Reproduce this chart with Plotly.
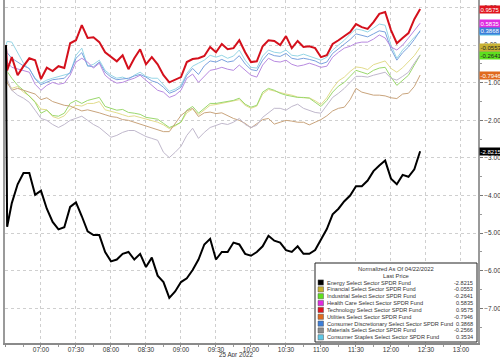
import plotly.graph_objects as go

DAY = "2022-04-25"
times = ["06:30", "06:31", "06:35", "06:40", "06:45", "06:50", "06:55",
         "07:00", "07:05", "07:10", "07:15", "07:20", "07:25", "07:30", "07:35", "07:40", "07:45", "07:50", "07:55",
         "08:00", "08:05", "08:10", "08:15", "08:20", "08:25", "08:30", "08:35", "08:40", "08:45", "08:50", "08:55",
         "09:00", "09:05", "09:10", "09:15", "09:20", "09:25", "09:30", "09:35", "09:40", "09:45", "09:50", "09:55",
         "10:00", "10:05", "10:10", "10:15", "10:20", "10:25", "10:30", "10:35", "10:40", "10:45", "10:50", "10:55",
         "11:00", "11:05", "11:10", "11:15", "11:20", "11:25", "11:30", "11:35", "11:40", "11:45", "11:50", "11:55",
         "12:00", "12:05", "12:10", "12:15", "12:20", "12:25"]

names = ["Energy Select Sector SPDR Fund", "Financial Select Sector SPDR Fund",
         "Industrial Select Sector SPDR Fund", "Health Care Select Sector SPDR Fund",
         "Technology Select Sector SPDR Fund", "Utilities Select Sector SPDR Fund",
         "Consumer Discretionary Select Sector SPDR Fund", "Materials Select Sector SPDR Fund",
         "Consumer Staples Select Sector SPDR Fund"]
last_price = [-2.8215, -0.0553, -0.2641, 0.5835, 0.9575, -0.7946, 0.3868, -0.2566, 0.3534]

energy = [0, -4.83, -4.2, -3.7, -3.4, -3.4, -3.98, -3.87, -4.35, -4.7, -4.9, -4.84, -4.3, -4.18, -4.55, -4.95,
          -5.05, -5.05, -5.5, -5.75, -5.7, -5.55, -5.5, -5.7, -5.55, -5.9, -5.65, -6.13, -6.3, -6.72, -6.55, -6.3,
          -6.2, -5.98, -5.7, -5.3, -5.15, -5.7, -5.5, -5.5, -5.25, -5.3, -5.55, -5.6, -5.5, -5.35, -5.07, -5.2,
          -5.25, -5.45, -5.5, -5.35, -5.55, -5.55, -5.45, -5.15, -4.89, -4.5, -4.35, -4.15, -4.0, -3.75, -3.75,
          -3.6, -3.35, -3.2, -3.07, -3.55, -3.7, -3.45, -3.5, -3.3, -2.8215]
financial = [0, -1.0, -1.15, -1.1, -1.25, -1.35, -1.5, -1.7, -1.72, -1.9, -1.95, -1.88, -1.7, -1.6, -1.62, -1.55,
             -1.55, -1.5, -1.72, -1.75, -1.8, -1.85, -1.9, -1.88, -1.92, -1.98, -2.0, -2.05, -2.12, -2.22, -2.15,
             -2.05, -1.8, -1.7, -1.85, -1.72, -1.6, -1.58, -1.55, -1.52, -1.5, -1.45, -1.6, -1.68, -1.62, -1.3,
             -1.18, -1.22, -1.28, -1.3, -1.33, -1.38, -1.4, -1.4, -1.48, -1.58, -1.4, -1.15, -0.95, -0.85, -0.7,
             -0.58, -0.6, -0.65, -0.52, -0.48, -0.42, -0.62, -0.72, -0.6, -0.45, -0.28, -0.0553]
industrial = [0, -0.7, -0.88, -1.07, -1.2, -1.36, -1.52, -1.81, -1.73, -1.87, -1.89, -1.81, -1.55, -1.47, -1.55,
              -1.47, -1.44, -1.39, -1.63, -1.68, -1.73, -1.71, -1.79, -1.81, -1.84, -1.92, -1.95, -1.97, -2.08,
              -2.19, -2.13, -2.05, -1.73, -1.63, -1.81, -1.68, -1.55, -1.55, -1.52, -1.49, -1.47, -1.41, -1.57,
              -1.65, -1.6, -1.25, -1.15, -1.2, -1.28, -1.33, -1.36, -1.39, -1.39, -1.41, -1.52, -1.63, -1.47,
              -1.25, -1.09, -0.99, -0.83, -0.67, -0.72, -0.77, -0.67, -0.61, -0.59, -0.85, -1.07, -0.93, -0.8,
              -0.53, -0.2641]
health = [0, -0.45, -0.59, -0.64, -0.69, -0.72, -1.04, -1.2, -1.07, -0.99, -1.04, -1.01, -0.8, -0.45, -0.35,
          -0.45, -0.61, -0.48, -0.8, -0.93, -1.01, -0.99, -0.93, -0.88, -0.8, -0.93, -1.07, -1.2, -1.25, -1.39,
          -1.33, -1.2, -0.88, -0.77, -0.99, -0.83, -0.67, -0.64, -0.59, -0.64, -0.67, -0.53, -0.67, -0.8, -0.85,
          -0.53, -0.35, -0.43, -0.45, -0.4, -0.51, -0.56, -0.53, -0.48, -0.53, -0.59, -0.56, -0.32, -0.19, -0.08,
          -0.03, 0.05, 0.08, 0.08, 0.16, 0.27, 0.19, -0.05, -0.13, 0.0, 0.19, 0.4, 0.5835]
technology = [0, -0.67, -0.32, -0.8, -0.56, -0.35, -0.4, -0.9, -0.6, -0.69, -0.56, -0.61, 0.05, 0.13, 0.53, 0.19,
              0.21, 0.08, -0.19, -0.32, -0.43, -0.27, -0.64, -0.35, -0.11, -0.51, -0.32, -0.51, -0.8, -0.99,
              -0.91, -0.85, -0.45, -0.37, -0.35, -0.29, -0.05, -0.19, 0.03, -0.11, -0.08, 0.13, -0.19, -0.45,
              -0.43, -0.03, 0.13, 0.11, 0.0, 0.24, -0.08, 0.11, -0.05, -0.03, -0.08, -0.32, -0.27, 0.03, 0.13,
              0.24, 0.35, 0.56, 0.48, 0.43, 0.61, 0.83, 0.88, 0.4, 0.05, 0.19, 0.32, 0.69, 0.9575]
utilities = [0, -1.0, -1.2, -1.15, -1.2, -1.25, -1.3, -1.45, -1.4, -1.5, -1.55, -1.6, -1.62, -1.68, -1.75, -1.72,
             -1.75, -1.8, -1.85, -1.9, -1.92, -1.98, -2.0, -2.05, -2.1, -2.15, -2.2, -2.25, -2.3, -2.3, -2.1,
             -1.87, -1.75, -1.68, -1.9, -1.8, -1.78, -1.82, -1.8, -1.88, -1.95, -2.0, -2.08, -2.2, -2.1, -1.98,
             -1.95, -2.1, -2.05, -2.0, -2.02, -2.05, -2.05, -2.12, -2.05, -1.98, -1.88, -1.75, -1.68, -1.65,
             -1.45, -1.15, -1.25, -1.28, -1.33, -1.33, -1.35, -1.4, -1.42, -1.3, -1.28, -1.1, -0.7946]
cons_disc = [0, -0.2, -0.35, -0.45, -0.55, -0.62, -0.9, -1.05, -0.98, -0.92, -0.9, -0.88, -0.72, -0.35, -0.2,
             -0.55, -0.58, -0.45, -0.72, -0.85, -0.92, -0.9, -0.88, -0.82, -0.78, -0.85, -0.95, -1.0, -1.12,
             -1.28, -1.22, -1.12, -0.8, -0.62, -0.78, -0.55, -0.42, -0.45, -0.38, -0.45, -0.42, -0.28, -0.5,
             -0.65, -0.68, -0.4, -0.22, -0.28, -0.3, -0.22, -0.35, -0.38, -0.35, -0.38, -0.42, -0.5, -0.45,
             -0.22, -0.1, 0.02, 0.15, 0.3, 0.25, 0.22, 0.3, 0.38, 0.35, -0.1, -0.4, -0.2, -0.05, 0.15, 0.3868]
materials = [0, -0.9, -1.2, -1.33, -1.41, -1.52, -1.73, -1.95, -2.0, -2.11, -2.19, -2.11, -2.0, -1.95, -1.89,
             -2.0, -2.11, -2.19, -2.32, -2.45, -2.4, -2.32, -2.27, -2.27, -2.35, -2.43, -2.48, -2.53, -2.85,
             -2.99, -2.85, -2.69, -2.4, -2.21, -2.48, -2.32, -2.19, -2.13, -2.08, -2.11, -2.05, -1.95, -2.11,
             -2.19, -2.13, -1.92, -1.79, -1.68, -1.68, -1.73, -1.63, -1.57, -1.68, -1.73, -1.79, -1.81, -1.6,
             -1.39, -1.28, -1.15, -0.99, -0.83, -0.83, -0.85, -0.8, -0.75, -0.72, -0.88, -0.93, -0.83, -0.72,
             -0.48, -0.2566]
cons_staples = [0, 0.1, 0.08, -0.21, -0.48, -0.64, -0.88, -1.01, -0.93, -0.88, -0.83, -0.8, -0.75, -0.27, -0.08,
                -0.56, -0.51, -0.4, -0.67, -0.8, -0.88, -0.85, -0.91, -0.8, -0.72, -0.83, -0.88, -0.88, -1.07,
                -1.23, -1.17, -1.07, -0.75, -0.56, -0.48, -0.4, -0.27, -0.32, -0.27, -0.35, -0.29, -0.13, -0.4,
                -0.59, -0.61, -0.29, -0.13, -0.19, -0.21, -0.13, -0.27, -0.29, -0.24, -0.29, -0.35, -0.4, -0.32,
                -0.13, 0.0, 0.13, 0.29, 0.43, 0.4, 0.35, 0.45, 0.56, 0.53, 0.0, -0.35, -0.13, 0.03, 0.21, 0.3534]

series = [energy, financial, industrial, health, technology, utilities, cons_disc, materials, cons_staples]
swatch_colors = ["#000000", "#c8b232", "#5ee01e", "#e02ce0", "#e0141e", "#e06a1e", "#3c7ed8", "#8c8c8c", "#5ec8e6"]
line_colors = ["#000000", "#e2dc8c", "#9ad86c", "#b88ae0", "#d4101c", "#c9a47c", "#7aa2de", "#c0b8cc", "#96d6e6"]
line_widths = [2, 1, 1, 1, 2, 1, 1, 1, 1]
label_text_colors = ["white", "#222", "#222", "white", "white", "white", "white", "white", "#222"]

x = [f"{DAY} {t}" for t in times]
draw_order = [1, 2, 5, 7, 8, 6, 3, 4, 0]

FONT = "Liberation Sans"
fig = go.Figure()
for i in draw_order:
    fig.add_trace(go.Scatter(x=x, y=series[i], mode="lines", name=names[i],
                             line=dict(color=line_colors[i], width=line_widths[i]),
                             showlegend=False, hoverinfo="skip"))

fig.update_layout(
    width=500, height=357,
    margin=dict(l=5, r=22, t=0, b=14, autoexpand=False),
    paper_bgcolor="white", plot_bgcolor="white",
    font=dict(family=FONT, size=7, color="#333"),
)
fig.update_xaxes(
    type="date", automargin=False,
    range=[f"{DAY} 06:29:10", f"{DAY} 13:14:35"],
    dtick=30 * 60 * 1000, tick0=f"{DAY} 07:00", tickformat="%H:%M",
    showgrid=True, gridcolor="#cfcfcf", griddash="dot", gridwidth=1,
    showline=True, linecolor="#8a8a8a", linewidth=2, mirror=False,
    ticks="outside", ticklen=2, tickcolor="#8a8a8a",
    minor=dict(ticks="outside", ticklen=2, dtick=15 * 60 * 1000, tickcolor="#999", showgrid=False),
    tickfont=dict(size=6.5, color="#333"),
    ticklabelstandoff=-3,
    zeroline=False,
)
fig.update_yaxes(
    automargin=False,
    range=[-7.92, 1.2], side="right",
    dtick=1, tick0=0, tickformat=".2f",
    showgrid=True, gridcolor="#cfcfcf", griddash="dot", gridwidth=1,
    showline=True, linecolor="#9a9a9a", linewidth=2, mirror=True,
    ticks="outside", ticklen=3, tickcolor="#777",
    minor=dict(ticks="outside", ticklen=2, dtick=0.5, tickcolor="#999", showgrid=False),
    tickfont=dict(size=6.5, color="#333"),
    zeroline=False,
)

annotations = []
annotations.append(dict(x=f"{DAY} 09:47", xref="x", y=-0.036, yref="paper", text="25 Apr 2022",
                        showarrow=False, font=dict(size=6.3, color="#333", family=FONT),
                        xanchor="center", yanchor="middle"))

# last price labels on right axis
label_order = [7, 8, 5, 2, 1, 6, 3, 4, 0]
for i in label_order:
    annotations.append(dict(x=1, xref="paper", y=last_price[i], yref="y", xanchor="left", yanchor="middle",
                            xshift=1, text=f"{last_price[i]:.4f}", showarrow=False,
                            bgcolor=swatch_colors[i], borderpad=0.5,
                            font=dict(size=6, color=label_text_colors[i], family=FONT)))

PLOT_W = 473.0
PLOT_H = 343.0
def px_x(p):
    return (p - 5) / PLOT_W
def px_y(p):
    return 1 - p / PLOT_H

LFS = 5.8
NFS = 5.6
shapes = [dict(type="rect", xref="paper", yref="paper", x0=px_x(315), x1=px_x(477), y0=px_y(342), y1=px_y(263),
               fillcolor="white", line=dict(color="#222", width=1), layer="above")]
annotations.append(dict(x=px_x(396), y=px_y(268.5), xref="paper", yref="paper", text="Normalized As Of 04/22/2022",
                        showarrow=False, xanchor="center", yanchor="middle",
                        font=dict(size=LFS, color="#333", family=FONT)))
annotations.append(dict(x=px_x(396), y=px_y(275.5), xref="paper", yref="paper", text="Last Price",
                        showarrow=False, xanchor="center", yanchor="middle",
                        font=dict(size=LFS, color="#333", family=FONT)))
for k, i in enumerate(range(len(names))):
    yc = 282.5 + k * 6.85
    shapes.append(dict(type="rect", xref="paper", yref="paper", x0=px_x(318), x1=px_x(323.5),
                       y0=px_y(yc + 2.6), y1=px_y(yc - 2.6), fillcolor=swatch_colors[i],
                       line=dict(color="#555", width=0.5), layer="above"))
    annotations.append(dict(x=px_x(325), y=px_y(yc), xref="paper", yref="paper", text=names[i],
                            showarrow=False, xanchor="left", yanchor="middle",
                            font=dict(size=NFS, color="#333", family=FONT)))
    annotations.append(dict(x=px_x(475), y=px_y(yc), xref="paper", yref="paper", text=f"{last_price[i]:.4f}",
                            showarrow=False, xanchor="right", yanchor="middle",
                            font=dict(size=NFS, color="#333", family=FONT)))

fig.update_layout(annotations=annotations, shapes=shapes)
fig.write_html("out.html", config={"displayModeBar": False},
               post_script="document.body.style.margin='0';document.body.style.padding='0';")
